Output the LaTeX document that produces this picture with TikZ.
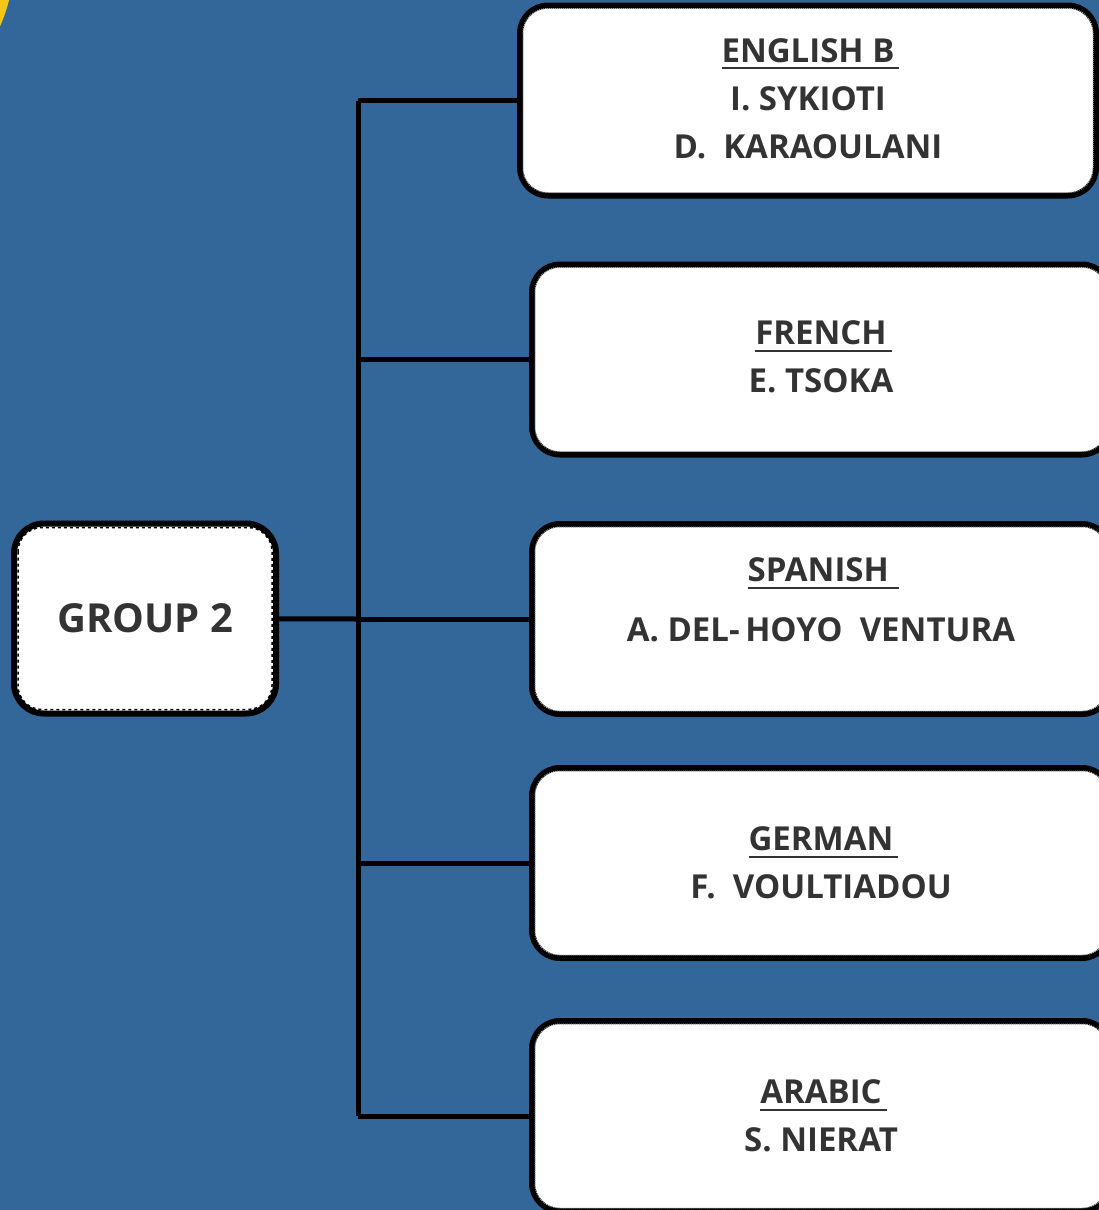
\documentclass[tikz,border=0pt]{standalone}
\usepackage{fontspec}
\setsansfont{Open Sans}
\usepackage{tikz}
\usetikzlibrary{calc}
\usepackage{xcolor}

\definecolor{bgblue}{HTML}{336699}
\definecolor{sunyellow}{HTML}{F5C518}
\definecolor{textgray}{HTML}{333333}

% underlined subject title
\newcommand{\subjtitle}[1]{\setbox0\hbox{#1}\rlap{\textcolor{textgray}{\rule[-7pt]{\dimexpr\wd0+5pt}{2pt}}}\box0}

\tikzset{
  namebox/.style={draw=black, line width=6pt, fill=white, rounded corners=28pt,
    minimum width=578pt, minimum height=190pt, align=center, text=textgray,
    font=\sffamily\bfseries\fontsize{33}{48}\selectfont},
  groupbox/.style={draw=black, line width=6pt, fill=white, rounded corners=30pt,
    minimum width=262pt, minimum height=190pt, text=textgray,
    font=\sffamily\bfseries\fontsize{40}{46}\selectfont},
  innerline/.style={draw=gray!70, line width=1pt, densely dotted, rounded corners=24pt},
  link/.style={draw=black, line width=5pt},
}

\begin{document}
\begin{tikzpicture}[x=1pt, y=-1pt]
  \useasboundingbox (0,0) rectangle (1099,1210);
  \clip (0,0) rectangle (1099,1210);
  \fill[bgblue] (0,0) rectangle (1099,1210);
  \fill[sunyellow] (-150,-40) circle (164);

  \coordinate (t1) at (358,100.5);
  \coordinate (t2) at (358,359.5);
  \coordinate (t3) at (358,619);
  \coordinate (t4) at (358,863);
  \coordinate (t5) at (358,1116);

  \draw[link] (t1) -- (t5);

  \node[groupbox] (group) at (145,618.5) {GROUP 2};

  \node[namebox, minimum width=576pt, text depth=4pt] (english) at (808,100.5)
    {\subjtitle{ENGLISH B}\\I. SYKIOTI\\D.\ \ KARAOULANI};
  \node[namebox, text depth=5pt] (french) at (821,359.5)
    {\subjtitle{FRENCH}\\E. TSOKA};
  \node[namebox, text depth=38pt] (spanish) at (821,619)
    {\subjtitle{SPANISH\,}\\[12pt]A. DEL-\,HOYO\ \ VENTURA};
  \node[namebox] (german) at (821,863)
    {\subjtitle{GERMAN}\\F.\ \ VOULTIADOU};
  \node[namebox] (arabic) at (821,1116)
    {\subjtitle{ARABIC}\\S. NIERAT};

  \foreach \n in {english,french,spanish,german,arabic}
    \draw[innerline] ([xshift=6pt,yshift=-6pt]\n.north west) rectangle ([xshift=-6pt,yshift=6pt]\n.south east);
  \draw[line width=1.5pt, dashed, rounded corners=24pt] ([xshift=7pt,yshift=-7pt]group.north west) rectangle ([xshift=-7pt,yshift=7pt]group.south east);

  \draw[link] (group) -- (t3);
  \draw[link] (t1) -- (english);
  \draw[link] (t2) -- (french);
  \draw[link] (t3) -- (spanish);
  \draw[link] (t4) -- (german);
  \draw[link] (t5) -- (arabic);
\end{tikzpicture}
\end{document}
